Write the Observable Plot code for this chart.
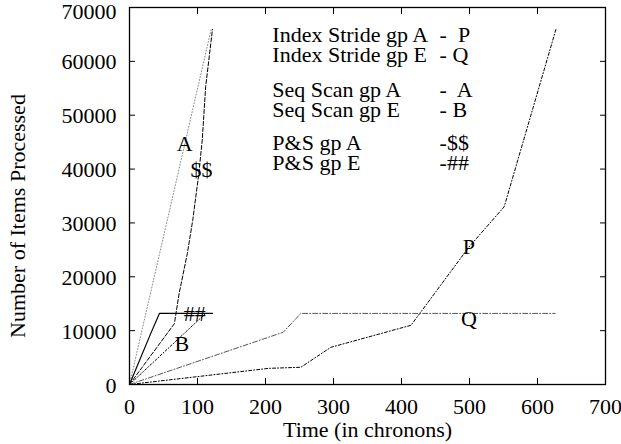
<!DOCTYPE html>
<html><head><meta charset="utf-8">
<script src="https://cdn.jsdelivr.net/npm/d3@7"></script>
<script src="https://cdn.jsdelivr.net/npm/@observablehq/plot@0.6"></script>
<style>body{margin:0;background:#fff}</style>
</head><body><div id="chart"></div>
<script>
// Index Stride gp A (P)
const pX = [0, 205, 252, 296, 414, 499, 551, 627];
const pY = [0, 3000, 3200, 6900, 11000, 25500, 33000, 65900];
// Index Stride gp E (Q)
const qX = [0, 226, 252, 626];
const qY = [0, 9700, 13200, 13200];
// Seq Scan gp A (A)
const aX = [0, 120];
const aY = [0, 65900];
// Seq Scan gp E (B)
const bX = [0, 111];
const bY = [0, 13100];
// P&S gp A ($$)
const sX = [0, 66, 73, 85, 93, 102, 107, 112, 122];
const sY = [0, 11300, 16900, 24300, 30500, 39200, 45400, 55300, 65900];
// P&S gp E (##)
const hX = [0, 31, 44, 122];
const hY = [0, 9400, 13200, 13200];

const xTicks = [0, 100, 200, 300, 400, 500, 600, 700];
const yTicks = [0, 10000, 20000, 30000, 40000, 50000, 60000, 70000];

// in-plot curve labels
const curveLabels = ["A", "$$", "##", "B", "P", "Q"];
const curveLabelX = [81, 106, 96, 77, 499, 499];
const curveLabelY = [44700, 39800, 13150, 7500, 25500, 12200];

// key text
const keyNames = ["Index Stride gp A", "Index Stride gp E", "Seq Scan gp A", "Seq Scan gp E", "P&S gp A", "P&S gp E"];
const keyMarks = ["-  P", "- Q", "-  A", "- B", "-$$", "-##"];
const keyY = [64900, 61200, 54600, 50900, 44800, 41100];
const keyNameX = 210;
const keyMarkX = 456;

const pts = (xs, ys) => xs.map((x, i) => ({x, y: ys[i]}));
const FONT = "Liberation Serif";

const chart = Plot.plot({
  width: 621,
  height: 444,
  marginLeft: 129,
  marginRight: 16,
  marginTop: 7,
  marginBottom: 60,
  style: {fontFamily: FONT, fontSize: "22px", background: "white", color: "black"},
  x: {domain: [0, 700]},
  y: {domain: [0, 70000]},
  marks: [
    Plot.line(pts(aX, aY), {x: "x", y: "y", stroke: "#8a8a8a", strokeWidth: 1, strokeDasharray: "1,2"}),
    Plot.line(pts(sX, sY), {x: "x", y: "y", stroke: "black", strokeWidth: 1, strokeDasharray: "4,2"}),
    Plot.line(pts(bX, bY), {x: "x", y: "y", stroke: "black", strokeWidth: 1, strokeDasharray: "2,2,1,2"}),
    Plot.line(pts(hX, hY), {x: "x", y: "y", stroke: "black", strokeWidth: 1.2}),
    Plot.line(pts(pX, pY), {x: "x", y: "y", stroke: "black", strokeWidth: 1, strokeDasharray: "3,2,1,2"}),
    Plot.line(pts(qX, qY), {x: "x", y: "y", stroke: "#555", strokeWidth: 1, strokeDasharray: "5,2,1,2"}),
    Plot.text(curveLabels, {x: (d, i) => curveLabelX[i], y: (d, i) => curveLabelY[i], text: d => d, fontSize: 22, fill: "black"}),
    Plot.text(keyNames, {x: keyNameX, y: (d, i) => keyY[i], text: d => d, textAnchor: "start", fontSize: 22, fill: "black"}),
    Plot.text(keyMarks, {x: keyMarkX, y: (d, i) => keyY[i], text: d => d, textAnchor: "start", fontSize: 22, fill: "black"}),
    // inward ticks on all four sides
    Plot.axisX(xTicks, {anchor: "bottom", tickSize: -6, tickFormat: () => "", label: null}),
    Plot.axisX(xTicks, {anchor: "top", tickSize: -6, tickFormat: () => "", label: null}),
    Plot.axisY(yTicks, {anchor: "left", tickSize: -6, tickFormat: () => "", label: null}),
    Plot.axisY(yTicks, {anchor: "right", tickSize: -6, tickFormat: () => "", label: null}),
    // tick labels
    Plot.axisX(xTicks, {anchor: "bottom", tickSize: 0, tickPadding: 14, tickFormat: d => String(d), label: null, fontSize: 22}),
    Plot.axisY(yTicks.slice(0, -1), {anchor: "left", tickSize: 0, tickPadding: 13, dy: 1, tickFormat: d => String(d), label: null, fontSize: 22}),
    Plot.axisY(yTicks.slice(-1), {anchor: "left", tickSize: 0, tickPadding: 13, dy: 4, tickFormat: d => String(d), label: null, fontSize: 22}),
    Plot.frame({stroke: "black", strokeWidth: 1.3}),
    Plot.text(["Time (in chronons)"], {frameAnchor: "bottom", dy: 52, fontSize: 22, fill: "black"}),
    Plot.text(["Number of Items Processed"], {frameAnchor: "left", textAnchor: "middle", rotate: -90, dx: -112, dy: 20, fontSize: 22, fill: "black"})
  ]
});
document.getElementById("chart").appendChild(chart);
</script>
</body></html>
